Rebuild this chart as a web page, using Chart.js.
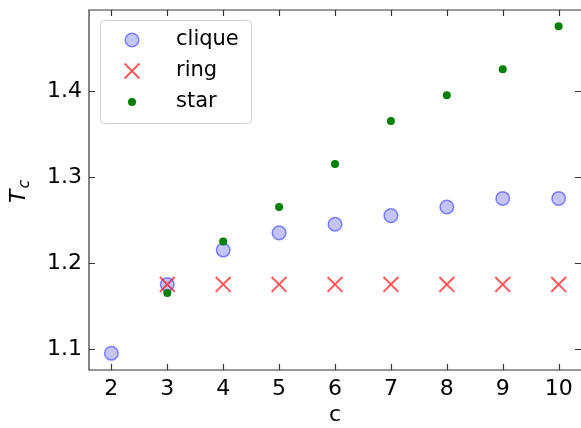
<!DOCTYPE html>
<html>
<head>
<meta charset="utf-8">
<script src="https://cdn.jsdelivr.net/npm/chart.js@4"></script>
<style>
  html, body { margin: 0; padding: 0; background: #fff; }
  #wrap { width: 581px; height: 428px; }
</style>
</head>
<body>
<div id="wrap"><canvas id="tc" width="581" height="428"></canvas></div>
<script>
// data
const cValues    = [2, 3, 4, 5, 6, 7, 8, 9, 10];
const cliqueTc   = [1.095, 1.175, 1.215, 1.235, 1.245, 1.255, 1.265, 1.275, 1.275];
const ringC      = [3, 4, 5, 6, 7, 8, 9, 10];
const ringTc     = [1.175, 1.175, 1.175, 1.175, 1.175, 1.175, 1.175, 1.175];
const starC      = [3, 4, 5, 6, 7, 8, 9, 10];
const starTc     = [1.165, 1.225, 1.265, 1.315, 1.365, 1.395, 1.425, 1.475];
const xTickVals  = [2, 3, 4, 5, 6, 7, 8, 9, 10];
const yTickVals  = [1.1, 1.2, 1.3, 1.4];

const FONT = "'DejaVu Sans', sans-serif";

function toPoints(xs, ys) {
    return xs.map((x, i) => ({ x: x, y: ys[i] }));
}

// inward ticks on all four sides + frame (right spine falls just off the canvas)
const frame = {
    id: 'frame',
    afterDraw(chart) {
        const ctx = chart.ctx;
        const a = chart.chartArea;
        const xs = chart.scales.x, ys = chart.scales.y;
        ctx.save();
        ctx.strokeStyle = '#333';
        ctx.lineWidth = 1.2;
        ctx.beginPath();
        ctx.moveTo(a.left, a.top - 0.5);    ctx.lineTo(a.left, a.bottom + 0.5);
        ctx.moveTo(a.left, a.top);          ctx.lineTo(a.right + 2, a.top);
        ctx.moveTo(a.left, a.bottom);       ctx.lineTo(a.right + 2, a.bottom);
        xTickVals.forEach(v => {
            const px = Math.round(xs.getPixelForValue(v)) + 0.5;
            ctx.moveTo(px, a.bottom); ctx.lineTo(px, a.bottom - 6);
            ctx.moveTo(px, a.top);    ctx.lineTo(px, a.top + 6);
        });
        yTickVals.forEach(v => {
            const py = Math.round(ys.getPixelForValue(v)) + 0.5;
            ctx.moveTo(a.left, py);  ctx.lineTo(a.left + 6, py);
            ctx.moveTo(a.right + 1, py); ctx.lineTo(a.right - 6, py);
        });
        ctx.stroke();

        // y title: italic T with subscript c
        ctx.fillStyle = '#000';
        ctx.translate(25, 203);
        ctx.rotate(-Math.PI / 2);
        ctx.textBaseline = 'alphabetic';
        ctx.font = "oblique 22px " + FONT;
        ctx.fillText('T', 0, 0);
        const w = ctx.measureText('T').width;
        ctx.font = "oblique 16px " + FONT;
        ctx.fillText('c', w + 1, 4);
        ctx.restore();
    }
};

// legend box drawn inside the plot, upper left
const legendBox = {
    id: 'legendBox',
    afterDatasetsDraw(chart) {
        const ctx = chart.ctx;
        ctx.save();
        ctx.fillStyle = 'rgba(255,255,255,0.8)';
        ctx.strokeStyle = '#d0d0d0';
        ctx.lineWidth = 1;
        ctx.beginPath();
        ctx.roundRect(100.5, 20.5, 151, 103, 4);
        ctx.fill();
        ctx.stroke();

        const rows = [40, 71, 102];
        chart.data.datasets.forEach((ds, i) => {
            const y = rows[i];
            ctx.fillStyle = ds.backgroundColor;
            ctx.strokeStyle = ds.borderColor;
            ctx.lineWidth = ds.borderWidth;
            Chart.helpers.drawPoint(ctx, {
                pointStyle: ds.pointStyle,
                radius: ds.pointRadius,
                rotation: 0,
                borderWidth: ds.borderWidth
            }, 132, y);
            ctx.fillStyle = '#000';
            ctx.font = "21px " + FONT;
            ctx.textBaseline = 'middle';
            ctx.fillText(ds.label, 176, y);
        });
        ctx.restore();
    }
};

new Chart(document.getElementById('tc').getContext('2d'), {
    type: 'scatter',
    data: {
        datasets: [
            {
                label: 'clique',
                data: toPoints(cValues, cliqueTc),
                pointStyle: 'circle',
                pointRadius: 6.8,
                backgroundColor: 'rgba(0,0,255,0.23)',
                borderColor: 'rgba(0,0,255,0.45)',
                borderWidth: 1.5,
                order: 3
            },
            {
                label: 'ring',
                data: toPoints(ringC, ringTc),
                pointStyle: 'crossRot',
                pointRadius: 10.5,
                backgroundColor: 'rgba(255,0,0,0.65)',
                borderColor: 'rgba(255,0,0,0.65)',
                borderWidth: 2,
                order: 2
            },
            {
                label: 'star',
                data: toPoints(starC, starTc),
                pointStyle: 'circle',
                pointRadius: 4,
                backgroundColor: '#008000',
                borderColor: '#008000',
                borderWidth: 0,
                order: 1
            }
        ]
    },
    options: {
        responsive: false,
        animation: false,
        layout: { autoPadding: false, padding: { top: 10, right: 0, bottom: 0, left: 0 } },
        plugins: {
            legend: { display: false },
            tooltip: { enabled: false }
        },
        scales: {
            x: {
                type: 'linear',
                min: 1.6,
                max: 10.4,
                afterFit(scale) {
                    scale.height = 58;
                    scale.paddingLeft = 0; scale.paddingRight = 0;
                },
                afterBuildTicks(scale) { scale.ticks = xTickVals.map(v => ({ value: v })); },
                grid: { display: false, drawTicks: false },
                border: { display: false },
                ticks: { color: '#000', padding: 6, font: { family: FONT, size: 22 } },
                title: { display: true, text: 'c', color: '#000', padding: 0, font: { family: FONT, size: 22 } }
            },
            y: {
                type: 'linear',
                min: 1.0756,
                max: 1.494,
                afterFit(scale) {
                    scale.width = 89;
                    scale.paddingTop = 0; scale.paddingBottom = 0;
                },
                afterBuildTicks(scale) { scale.ticks = yTickVals.map(v => ({ value: v })); },
                grid: { display: false, drawTicks: false },
                border: { display: false },
                ticks: {
                    color: '#000', padding: 7, font: { family: FONT, size: 22 },
                    callback: v => v.toFixed(1)
                }
            }
        }
    },
    plugins: [frame, legendBox]
});
</script>
</body>
</html>
